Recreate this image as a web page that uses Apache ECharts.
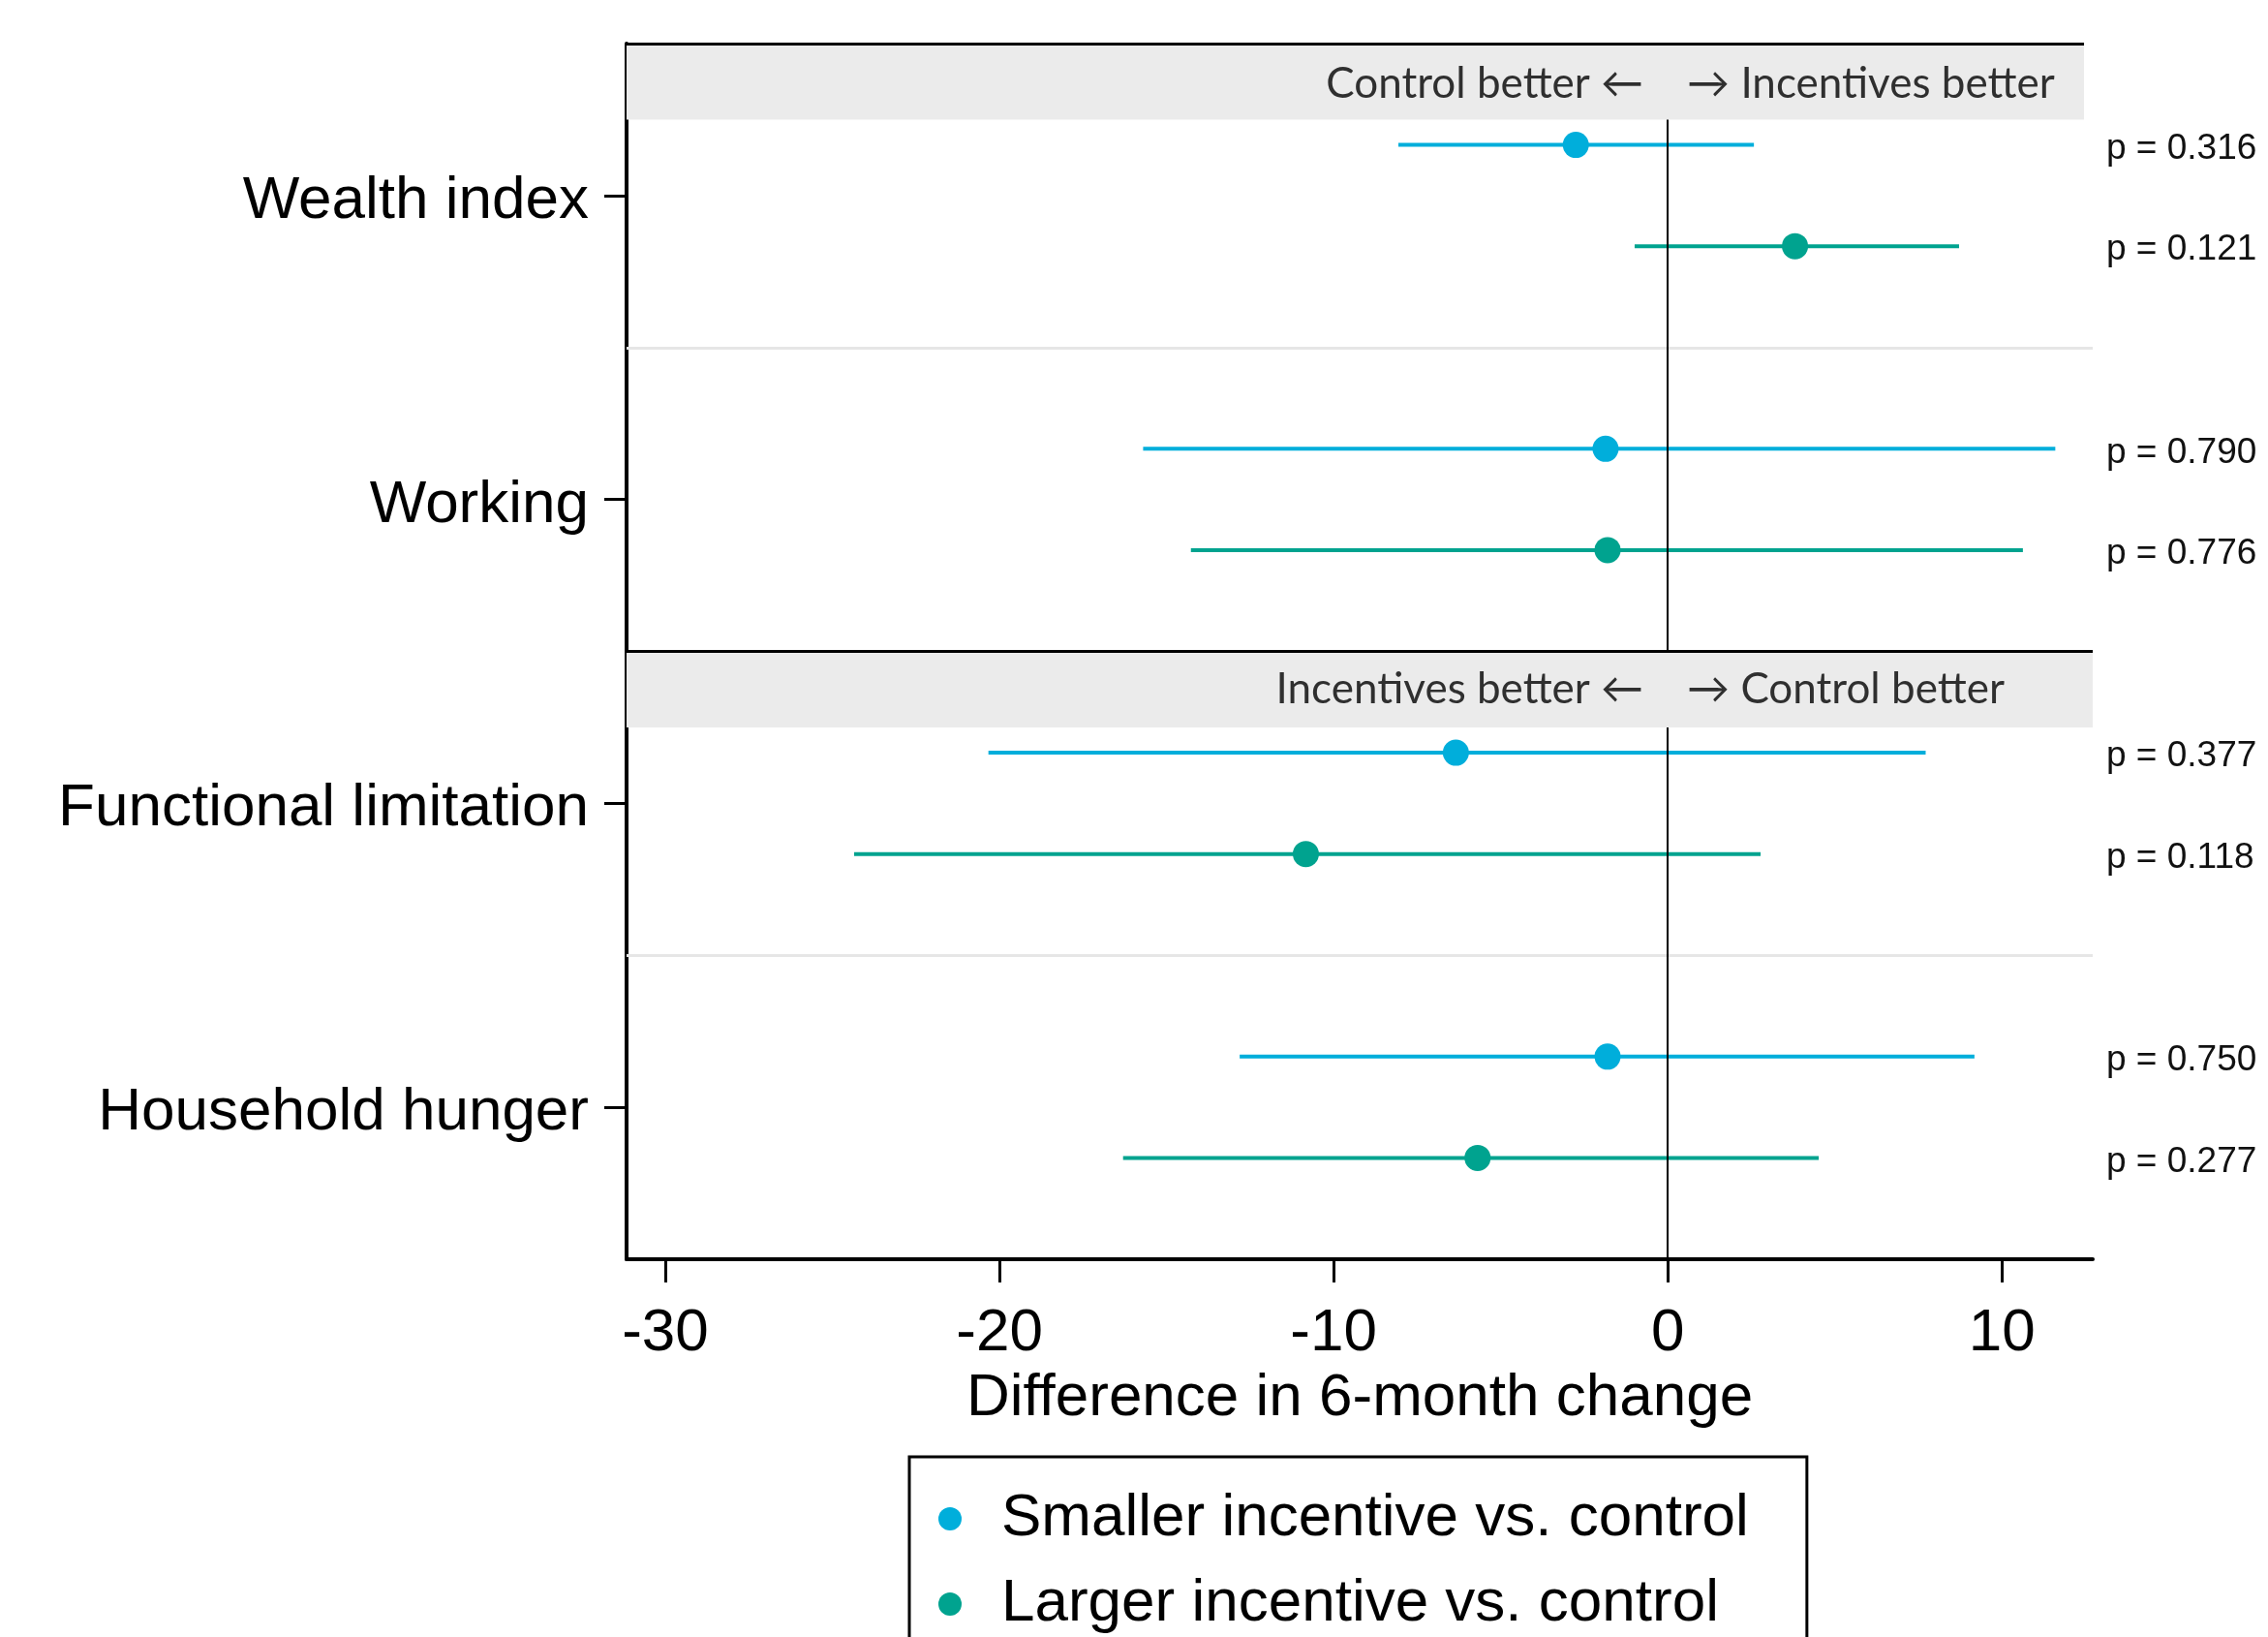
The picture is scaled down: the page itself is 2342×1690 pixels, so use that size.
<!DOCTYPE html>
<html>
<head>
<meta charset="utf-8">
<script src="https://cdn.jsdelivr.net/npm/echarts@6/dist/echarts.min.js"></script>
<style>
  html, body { margin: 0; padding: 0; background: #fff; }
  #chart { width: 2342px; height: 1690px; }
</style>
</head>
<body>
<div id="chart"></div>
<script>
// outcomes, top to bottom
const outcomes = ['Wealth index', 'Working', 'Functional limitation', 'Household hunger']

// smaller incentive vs. control
const smallerEst = [-2.75, -1.86, -6.34, -1.8]
const smallerLo = [-8.06, -15.7, -20.33, -12.81]
const smallerHi = [2.58, 11.6, 7.72, 9.18]
const smallerP = ['0.316', '0.790', '0.377', '0.750']

// larger incentive vs. control
const largerEst = [3.81, -1.8, -10.83, -5.69]
const largerLo = [-0.99, -14.27, -24.35, -16.3]
const largerHi = [8.72, 10.63, 2.78, 4.52]
const largerP = ['0.121', '0.776', '0.118', '0.277']

const xTicks = [-30, -20, -10, 0, 10]
const panelText = [
  ['Control better ←', '→ Incentives better'],
  ['Incentives better ←', '→ Control better']
]
const seriesNames = ['Smaller incentive vs. control', 'Larger incentive vs. control']
const colors = ['#00AEDB', '#00A38F']

const X_MIN = -31.16
const X_MAX = 12.72
const FONT = '"Liberation Sans", Arial, sans-serif'

// each outcome takes three rows: two estimates and a gap
const rowOf = (i, s) => i * 3 + s

const pByRow = {}
outcomes.forEach((o, i) => {
  pByRow[rowOf(i, 0)] = smallerP[i]
  pByRow[rowOf(i, 1)] = largerP[i]
})
const pRows = Object.keys(pByRow).map(Number)

function barData(lo, hi, s) {
  return lo.map((v, i) => [v, hi[i], rowOf(i, s)])
}
function pointData(est, s) {
  return est.map((v, i) => [v, rowOf(i, s)])
}

function renderBar(params, api) {
  const a = api.coord([api.value(0), api.value(2)])
  const b = api.coord([api.value(1), api.value(2)])
  return {
    type: 'line',
    shape: { x1: a[0], y1: a[1], x2: b[0], y2: b[1] },
    style: { stroke: api.visual('color'), lineWidth: 4 }
  }
}

const chart = echarts.init(document.getElementById('chart'))

const black = { color: '#000', width: 3, type: 'solid' }
const sepLine = { color: '#e6e6e6', width: 3, type: 'solid' }
const zeroLine = { color: '#000', width: 2, type: 'solid' }

const option = {
  backgroundColor: '#fff',
  animation: false,
  grid: { left: 647, right: 181, top: 45, bottom: 390, containLabel: false, outerBoundsMode: 'none' },
  legend: {
    data: seriesNames,
    orient: 'vertical',
    left: 939,
    top: 1504,
    height: 400,
    icon: 'circle',
    itemWidth: 24,
    itemHeight: 24,
    itemGap: 24,
    padding: [32, 60, 60, 30],
    borderColor: '#000',
    borderWidth: 3,
    textStyle: { fontFamily: FONT, fontSize: 62, color: '#000', lineHeight: 64, padding: [0, 0, 0, 36] }
  },
  xAxis: {
    type: 'value',
    min: X_MIN,
    max: X_MAX,
    name: 'Difference in 6-month change',
    nameLocation: 'middle',
    nameGap: 96,
    nameTextStyle: { fontFamily: FONT, fontSize: 62, color: '#000' },
    axisLine: { onZero: false, lineStyle: { color: '#000', width: 4 } },
    axisTick: { show: true, customValues: xTicks, length: 24, lineStyle: { color: '#000', width: 3 } },
    axisLabel: { customValues: xTicks, fontFamily: FONT, fontSize: 62, color: '#000', margin: 46 },
    splitLine: { show: false }
  },
  yAxis: [
    {
      type: 'category',
      data: outcomes,
      inverse: true,
      axisLine: { show: true, onZero: false, lineStyle: { color: '#000', width: 4 } },
      axisTick: { show: true, inside: false, alignWithLabel: true, length: 23, lineStyle: { color: '#000', width: 3 } },
      axisLabel: {
        margin: 39,
        formatter: v => '{t|' + v + '}',
        rich: { t: { fontFamily: FONT, fontSize: 62, color: '#000', padding: [12, 0, 0, 0] } }
      },
      splitLine: { show: false }
    },
    {
      type: 'value',
      min: -1,
      max: 11,
      inverse: true,
      position: 'right',
      axisLine: { show: false, onZero: false },
      axisTick: { show: false },
      splitLine: { show: false },
      axisLabel: {
        customValues: pRows,
        margin: 14,
        formatter: v => '{p|p = ' + pByRow[v] + '}',
        rich: { p: { fontFamily: FONT, fontSize: 37, color: '#111', padding: [8, 0, 0, 0] } }
      }
    }
  ],
  series: [
    {
      name: 'panels',
      type: 'scatter',
      yAxisIndex: 1,
      z: 1,
      silent: true,
      clip: false,
      data: [],
      markArea: {
        silent: true,
        itemStyle: { color: '#ebebeb' },
        data: [
          [{ coord: [X_MIN, -1] }, { coord: [12.46, -0.25] }],
          [{ coord: [X_MIN, 5] }, { coord: [X_MAX, 5.75] }]
        ]
      }
    },
    {
      name: 'rules',
      type: 'scatter',
      yAxisIndex: 1,
      z: 2,
      silent: true,
      clip: false,
      data: [],
      markLine: {
        silent: true,
        symbol: 'none',
        label: { show: false },
        data: [
          [{ coord: [X_MIN, -1], lineStyle: black }, { coord: [12.46, -1] }],
          [{ coord: [X_MIN, 5], lineStyle: black }, { coord: [X_MAX, 5] }],
          [{ coord: [X_MIN, 2], lineStyle: sepLine }, { coord: [X_MAX, 2] }],
          [{ coord: [X_MIN, 8], lineStyle: sepLine }, { coord: [X_MAX, 8] }],
          [{ coord: [0, -0.25], lineStyle: zeroLine }, { coord: [0, 5] }],
          [{ coord: [0, 5.75], lineStyle: zeroLine }, { coord: [0, 11] }]
        ]
      }
    },
    {
      name: 'panel labels',
      type: 'scatter',
      yAxisIndex: 1,
      z: 3,
      silent: true,
      symbolSize: 0,
      clip: false,
      label: {
        show: true,
        fontFamily: 'Lato, "Open Sans", sans-serif',
        fontSize: 44,
        color: '#000'
      },
      data: [
        { value: [0, -0.6], label: { position: 'left', distance: 25, formatter: panelText[0][0] } },
        { value: [0, -0.6], label: { position: 'right', distance: 20, formatter: panelText[0][1] } },
        { value: [0, 5.38], label: { position: 'left', distance: 25, formatter: panelText[1][0] } },
        { value: [0, 5.38], label: { position: 'right', distance: 20, formatter: panelText[1][1] } }
      ]
    },
    {
      name: 'smaller CI',
      type: 'custom',
      yAxisIndex: 1,
      z: 4,
      itemStyle: { color: colors[0] },
      encode: { x: [0, 1], y: 2 },
      renderItem: renderBar,
      data: barData(smallerLo, smallerHi, 0)
    },
    {
      name: 'larger CI',
      type: 'custom',
      yAxisIndex: 1,
      z: 4,
      itemStyle: { color: colors[1] },
      encode: { x: [0, 1], y: 2 },
      renderItem: renderBar,
      data: barData(largerLo, largerHi, 1)
    },
    {
      name: seriesNames[0],
      type: 'scatter',
      yAxisIndex: 1,
      z: 5,
      symbol: 'circle',
      symbolSize: 27,
      itemStyle: { color: colors[0], opacity: 1 },
      data: pointData(smallerEst, 0)
    },
    {
      name: seriesNames[1],
      type: 'scatter',
      yAxisIndex: 1,
      z: 5,
      symbol: 'circle',
      symbolSize: 27,
      itemStyle: { color: colors[1], opacity: 1 },
      data: pointData(largerEst, 1)
    }
  ]
}

chart.setOption(option)
</script>
</body>
</html>
